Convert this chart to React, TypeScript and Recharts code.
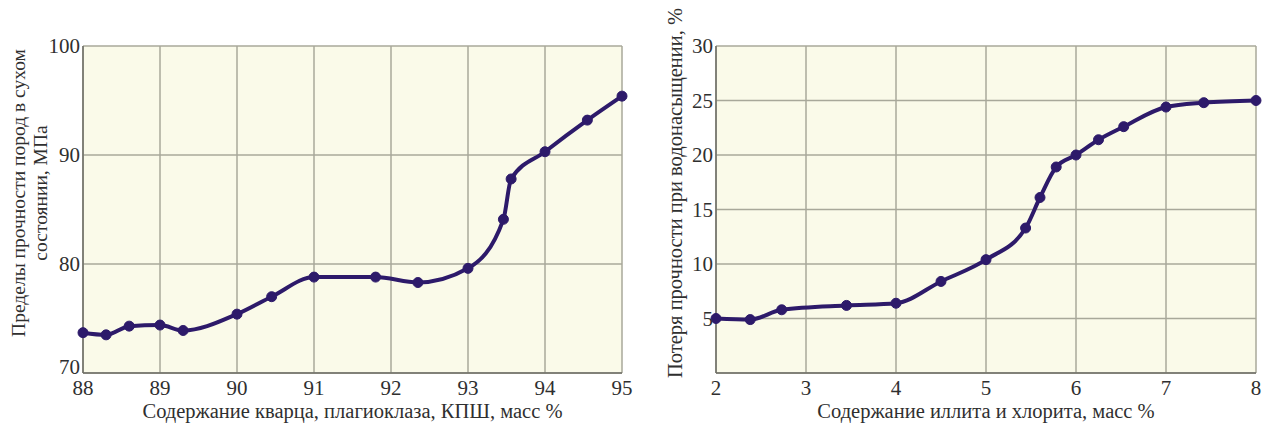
import { CartesianGrid, Line, LineChart, XAxis, YAxis } from 'recharts'

// левый график: прочность в сухом состоянии
const quartzX = [88, 88.3, 88.6, 89, 89.3, 90, 90.45, 91, 91.8, 92.35, 93, 93.46, 93.56, 94, 94.55, 95]
const dryStrength = [73.7, 73.5, 74.3, 74.4, 73.9, 75.4, 77.0, 78.8, 78.8, 78.3, 79.6, 84.1, 87.8, 90.3, 93.2, 95.4]
const quartzTicks = [88, 89, 90, 91, 92, 93, 94, 95]
const strengthTicks = [70, 80, 90, 100]

// правый график: потеря прочности при водонасыщении
const clayX = [2, 2.38, 2.73, 3.45, 4, 4.5, 5, 5.44, 5.6, 5.78, 6, 6.25, 6.53, 7, 7.42, 8]
const lossPct = [5.0, 4.9, 5.8, 6.2, 6.4, 8.4, 10.4, 13.3, 16.1, 18.9, 20.0, 21.4, 22.6, 24.4, 24.8, 25.0]
const clayTicks = [2, 3, 4, 5, 6, 7, 8]
const lossTicks = [0, 5, 10, 15, 20, 25, 30]

const leftData = quartzX.map((x, i) => ({ x, y: dryStrength[i] }))
const rightData = clayX.map((x, i) => ({ x, y: lossPct[i] }))

const FONT = '"Liberation Serif", "Times New Roman", serif'
const INK = '#2f2f2f'
const LINE = '#2d1a6a'
const GRID = '#a8a89a'
const AXIS = '#6e6e66'
const BG = '#fafae9'

function XTick({ x, y, payload }: any) {
  return (
    <text x={x} y={y + 15} textAnchor="middle" dominantBaseline="central" fontFamily={FONT} fontSize={21} fill={INK}>
      {payload.value}
    </text>
  )
}

function makeYTick(yMin: number, hideMin: boolean) {
  return function YTick({ x, y, payload }: any) {
    if (hideMin && payload.value === yMin) return <g />
    // нижнее значение стоит над осью, как в оригинале
    const dy = payload.value === yMin ? -6 : 0
    return (
      <text x={x} y={y + dy} textAnchor="end" dominantBaseline="central" fontFamily={FONT} fontSize={21} fill={INK}>
        {payload.value}
      </text>
    )
  }
}

function Chart({
  data,
  width,
  xDomain,
  xTicks,
  yDomain,
  yTicks,
  yWidth,
  rightMargin,
  xTitle,
  yTitle,
  hideZero,
}: {
  data: { x: number; y: number }[]
  width: number
  xDomain: [number, number]
  xTicks: number[]
  yDomain: [number, number]
  yTicks: number[]
  yWidth: number
  rightMargin: number
  xTitle: string
  yTitle: string[]
  hideZero?: boolean
}) {
  const plotMid = yWidth + (width - yWidth - rightMargin) / 2
  const YTick = makeYTick(yDomain[0], !!hideZero)
  return (
    <LineChart width={width} height={425} data={data} margin={{ top: 46, right: rightMargin, left: 0, bottom: 0 }}>
      <CartesianGrid stroke={GRID} strokeWidth={1.5} fill={BG} horizontalValues={yTicks} verticalValues={xTicks} />
      <XAxis
        dataKey="x"
        type="number"
        domain={xDomain}
        ticks={xTicks}
        height={52}
        tickLine={false}
        tickSize={0}
        tickMargin={0}
        stroke={AXIS}
        strokeWidth={1.5}
        tick={<XTick />}
        label={{
          content: () => (
            <text x={plotMid} y={411} textAnchor="middle" dominantBaseline="central" fontFamily={FONT} fontSize={20.5} fill={INK}>
              {xTitle}
            </text>
          ),
        }}
      />
      <YAxis
        type="number"
        domain={yDomain}
        ticks={yTicks}
        width={yWidth}
        tickLine={false}
        tickSize={0}
        tickMargin={3}
        stroke={AXIS}
        strokeWidth={1.5}
        tick={<YTick />}
        label={{
          content: () => (
            <text
              transform={`translate(${yTitle.length > 1 ? 18 : 35},193) rotate(-90)`}
              textAnchor="middle"
              dominantBaseline="central"
              fontFamily={FONT}
              fontSize={yTitle.length > 1 ? 19.5 : 20.5}
              fill={INK}
            >
              {yTitle.map((t, i) => (
                <tspan key={i} x={0} dy={i === 0 ? 0 : 22}>
                  {t}
                </tspan>
              ))}
            </text>
          ),
        }}
      />
      <Line
        type="monotone"
        dataKey="y"
        stroke={LINE}
        strokeWidth={4}
        dot={{ r: 5, fill: LINE, stroke: LINE, strokeWidth: 1 }}
        isAnimationActive={false}
      />
    </LineChart>
  )
}

export default function App() {
  return (
    <div style={{ position: 'absolute', left: 0, top: 0, width: 1270, height: 425, background: '#fff', display: 'flex' }}>
      <Chart
        data={leftData}
        width={640}
        xDomain={[88, 95]}
        xTicks={quartzTicks}
        yDomain={[70, 100]}
        yTicks={strengthTicks}
        yWidth={83}
        rightMargin={18}
        xTitle="Содержание кварца, плагиоклаза, КПШ, масс %"
        yTitle={['Пределы прочности пород в сухом', 'состоянии, МПа']}
      />
      <Chart
        data={rightData}
        width={630}
        xDomain={[2, 8]}
        xTicks={clayTicks}
        yDomain={[0, 30]}
        yTicks={lossTicks}
        yWidth={76}
        rightMargin={14}
        xTitle="Содержание иллита и хлорита, масс %"
        yTitle={['Потеря прочности при водонасыщении, %']}
        hideZero
      />
    </div>
  )
}
